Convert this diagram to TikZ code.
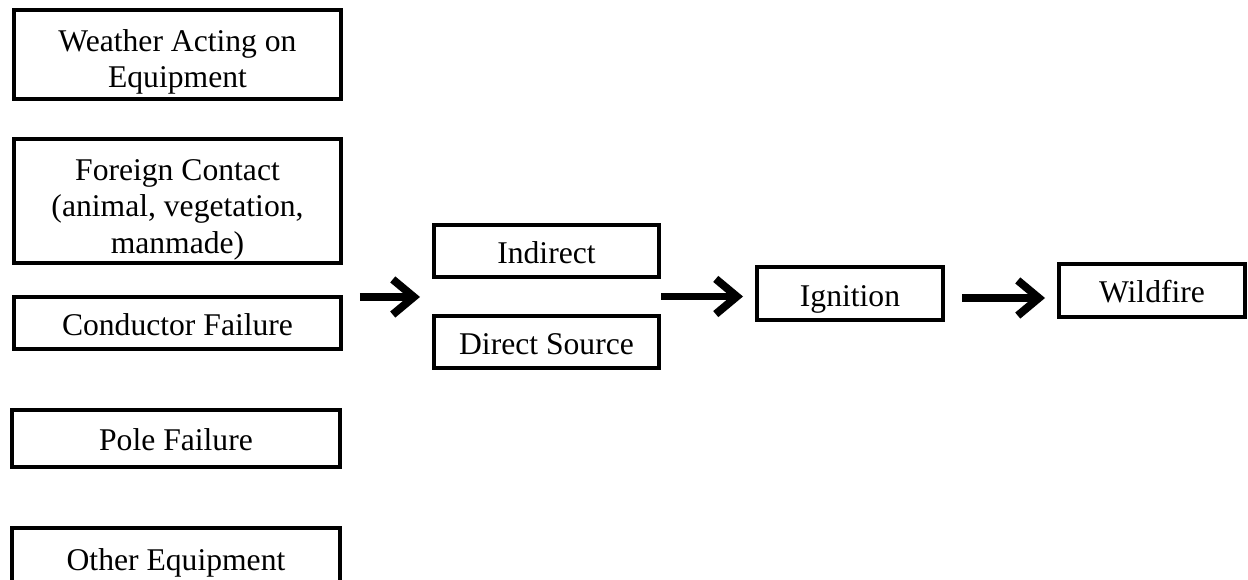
\documentclass[tikz,border=0pt]{standalone}
\usepackage{fontspec}
\setmainfont{Liberation Serif}
\usetikzlibrary{arrows.meta,calc}

% text set a little low in its box, as in the original
\newcommand{\lowtext}[2]{\raisebox{-#1}[\height][\depth]{\begin{tabular}{@{}c@{}}#2\end{tabular}}}

\begin{document}
\begin{tikzpicture}[x=0.02cm, y=-0.02cm,
  box/.style={draw, line width=2.3pt, inner sep=0pt, font=\fontsize{18}{20.5}\selectfont},
  flow/.style={line width=4.5pt, -{Straight Barb[length=12pt, width=20pt]}}]
\useasboundingbox (0,0) rectangle (1248,580);
\clip (0,0) rectangle (1248,580);
% causes
\node[box, minimum width=6.54cm, minimum height=1.78cm] (weather) at (177.5,54.5) {\lowtext{4.5pt}{Weather Acting on\\Equipment}};
\node[box, minimum width=6.54cm, minimum height=2.48cm] (foreign) at (177.5,201) {\lowtext{5pt}{Foreign Contact\\(animal, vegetation,\\manmade)}};
\node[box, minimum width=6.54cm, minimum height=1.04cm] (conductor) at (177.5,323) {\lowtext{2.8pt}{Conductor Failure}};
\node[box, minimum width=6.56cm, minimum height=1.14cm] (pole) at (176,438.5) {\lowtext{2.8pt}{Pole Failure}};
\node[box, minimum width=6.56cm, minimum height=1.2cm] (other) at (176,558) {\lowtext{2.8pt}{Other Equipment}};
% sources
\node[box, minimum width=4.5cm, minimum height=1.04cm] (indirect) at (546.5,251) {\lowtext{2.8pt}{Indirect}};
\node[box, minimum width=4.5cm, minimum height=1.04cm] (direct) at (546.5,342) {\lowtext{2.8pt}{Direct Source}};
\node[box, minimum width=3.72cm, minimum height=1.06cm] (ignition) at (850,293.5) {\lowtext{3.5pt}{Ignition}};
\node[box, minimum width=3.72cm, minimum height=1.06cm] (wildfire) at (1152,290.5) {\lowtext{2.8pt}{Wildfire}};
% arrows
\coordinate (causes) at ($(foreign.south east)!0.5!(conductor.north east)+(17,17)$);
\coordinate (sources) at ($(indirect.south west)!0.5!(direct.north west)$);
\draw[flow] (causes) -- ($(causes -| sources)+(-12,0)$);
\coordinate (srcout) at ($(indirect.south east)!0.5!(direct.north east)$);
\draw[flow, shorten >=12*0.02cm] (srcout) -- (srcout -| ignition.west);
\draw[flow, shorten <=17*0.02cm, shorten >=12*0.02cm] (ignition.east |- 0,298) -- (wildfire.west |- 0,298);
\end{tikzpicture}
\end{document}
